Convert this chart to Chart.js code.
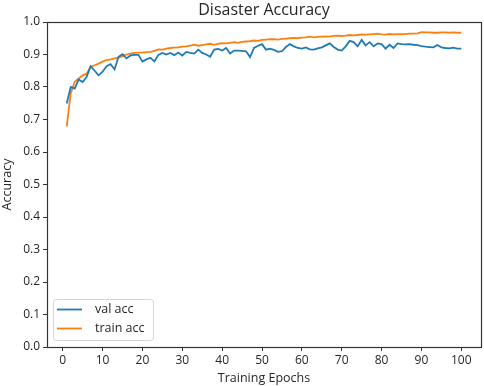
<!DOCTYPE html>
<html>
<head>
<meta charset="utf-8">
<script src="https://cdn.jsdelivr.net/npm/chart.js@4/dist/chart.umd.min.js"></script>
<style>
  html, body { margin: 0; padding: 0; background: #fff; }
  #wrap { width: 484px; height: 386px; }
</style>
</head>
<body>
<div id="wrap"><canvas id="chart" width="484" height="386"></canvas></div>
<script>
// epochs 1..100
const epochs = Array.from({ length: 100 }, (_, i) => i + 1);

const valAcc = [
  0.749, 0.800, 0.795, 0.823, 0.815, 0.831, 0.864, 0.850, 0.836, 0.847,
  0.864, 0.870, 0.854, 0.893, 0.901, 0.888, 0.897, 0.899, 0.899, 0.878,
  0.885, 0.890, 0.879, 0.899, 0.905, 0.900, 0.905, 0.898, 0.906, 0.897,
  0.908, 0.905, 0.903, 0.915, 0.905, 0.900, 0.893, 0.915, 0.917, 0.912,
  0.920, 0.903, 0.912, 0.912, 0.911, 0.910, 0.892, 0.920, 0.927, 0.932,
  0.915, 0.918, 0.914, 0.908, 0.910, 0.923, 0.932, 0.925, 0.920, 0.918,
  0.922, 0.916, 0.915, 0.919, 0.922, 0.928, 0.934, 0.923, 0.915, 0.912,
  0.925, 0.942, 0.938, 0.925, 0.945, 0.928, 0.938, 0.925, 0.934, 0.932,
  0.918, 0.930, 0.920, 0.934, 0.932, 0.931, 0.932, 0.930, 0.929, 0.926,
  0.924, 0.923, 0.922, 0.929, 0.922, 0.920, 0.919, 0.921, 0.918, 0.918
];

const trainAcc = [
  0.679, 0.780, 0.816, 0.826, 0.836, 0.841, 0.862, 0.867, 0.872, 0.878,
  0.883, 0.885, 0.888, 0.890, 0.895, 0.900, 0.903, 0.905, 0.906, 0.906,
  0.907, 0.908, 0.911, 0.916, 0.915, 0.918, 0.920, 0.921, 0.922, 0.924,
  0.925, 0.927, 0.930, 0.927, 0.929, 0.931, 0.933, 0.930, 0.933, 0.935,
  0.934, 0.936, 0.938, 0.936, 0.939, 0.940, 0.941, 0.943, 0.942, 0.945,
  0.946, 0.947, 0.947, 0.946, 0.948, 0.949, 0.950, 0.951, 0.950, 0.952,
  0.953, 0.955, 0.953, 0.954, 0.955, 0.956, 0.955, 0.957, 0.958, 0.957,
  0.958, 0.960, 0.959, 0.960, 0.962, 0.961, 0.962, 0.963, 0.964, 0.962,
  0.961, 0.963, 0.962, 0.963, 0.963, 0.963, 0.964, 0.964, 0.965, 0.969,
  0.968, 0.968, 0.967, 0.967, 0.968, 0.968, 0.967, 0.968, 0.967, 0.967
];

const xTicks = [0, 10, 20, 30, 40, 50, 60, 70, 80, 90, 100];
const yTicks = [0, 0.1, 0.2, 0.3, 0.4, 0.5, 0.6, 0.7, 0.8, 0.9, 1.0];

const seriesLabels = ['val acc', 'train acc'];
const chartTitle = 'Disaster Accuracy';
const BLUE = '#1f7bb6';
const ORANGE = '#ff7f0e';
const FONT = 'Open Sans';
const INK = '#262626';

// matplotlib-like frame around the axes
const frame = {
  id: 'frame',
  afterDatasetsDraw(chart) {
    const { ctx, chartArea: a } = chart;
    ctx.save();
    ctx.strokeStyle = '#333';
    ctx.lineWidth = 1.2;
    ctx.strokeRect(Math.round(a.left) + 0.5, Math.round(a.top) + 0.5,
      Math.round(a.right - a.left), Math.round(a.bottom - a.top));
    ctx.restore();
  }
};

// title centred over the axes, like matplotlib does
const axesTitle = {
  id: 'axesTitle',
  afterDraw(chart) {
    const { ctx, chartArea: a } = chart;
    ctx.save();
    ctx.font = '16px ' + FONT;
    ctx.fillStyle = INK;
    ctx.textAlign = 'center';
    ctx.textBaseline = 'alphabetic';
    ctx.fillText(chartTitle, (a.left + a.right) / 2, a.top - 7);
    ctx.restore();
  }
};

// legend box in lower-left corner
const cornerLegend = {
  id: 'cornerLegend',
  afterDraw(chart) {
    const { ctx, chartArea: a } = chart;
    const x = a.left + 6, y = a.bottom - 48, w = 100, h = 41;
    ctx.save();
    ctx.fillStyle = 'rgba(255,255,255,0.8)';
    ctx.strokeStyle = '#d6d6d6';
    ctx.lineWidth = 1;
    ctx.beginPath();
    ctx.roundRect(x + 0.5, y + 0.5, w, h, 3);
    ctx.fill();
    ctx.stroke();
    ctx.font = '12.5px ' + FONT;
    ctx.textBaseline = 'middle';
    chart.data.datasets.forEach((ds, i) => {
      const ly = y + 10.5 + i * 19;
      ctx.strokeStyle = ds.borderColor;
      ctx.lineWidth = 1.8;
      ctx.beginPath();
      ctx.moveTo(x + 4, ly);
      ctx.lineTo(x + 29, ly);
      ctx.stroke();
      ctx.fillStyle = INK;
      ctx.fillText(ds.label, x + 42, ly);
    });
    ctx.restore();
  }
};

new Chart(document.getElementById('chart'), {
  type: 'line',
  data: {
    labels: epochs,
    datasets: [
      {
        label: seriesLabels[0],
        data: epochs.map((e, i) => ({ x: e, y: valAcc[i] })),
        borderColor: BLUE,
        borderWidth: 1.8,
        pointRadius: 0,
        tension: 0
      },
      {
        label: seriesLabels[1],
        data: epochs.map((e, i) => ({ x: e, y: trainAcc[i] })),
        borderColor: ORANGE,
        borderWidth: 1.8,
        pointRadius: 0,
        tension: 0
      }
    ]
  },
  options: {
    responsive: false,
    animation: false,
    layout: { padding: { left: 0, right: 3, top: 22, bottom: 0 } },
    plugins: {
      legend: { display: false },
      tooltip: { enabled: false },
      title: { display: false }
    },
    scales: {
      x: {
        type: 'linear',
        min: -3.95,
        max: 104.95,
        afterBuildTicks: (axis) => { axis.ticks = xTicks.map(v => ({ value: v })); },
        afterFit: (axis) => { axis.height = 39; },
        grid: { display: true, drawOnChartArea: false, drawTicks: true, tickLength: 4, tickColor: '#333' },
        border: { display: false },
        ticks: { color: INK, padding: 2, maxRotation: 0, font: { family: FONT, size: 12 } },
        title: { display: true, text: 'Training Epochs', color: INK, padding: { top: 0, bottom: 0 }, font: { family: FONT, size: 12.5 } }
      },
      y: {
        min: 0,
        max: 1,
        afterBuildTicks: (axis) => { axis.ticks = yTicks.map(v => ({ value: v })); },
        afterFit: (axis) => { axis.width = 47; },
        grid: { display: true, drawOnChartArea: false, drawTicks: true, tickLength: 4, tickColor: '#333' },
        border: { display: false },
        ticks: { color: INK, padding: 3, font: { family: FONT, size: 12 }, callback: (v) => v.toFixed(1) },
        title: { display: true, text: 'Accuracy', color: INK, padding: { top: 0, bottom: 2 }, font: { family: FONT, size: 12.5 } }
      }
    }
  },
  plugins: [frame, axesTitle, cornerLegend]
});
</script>
</body>
</html>
